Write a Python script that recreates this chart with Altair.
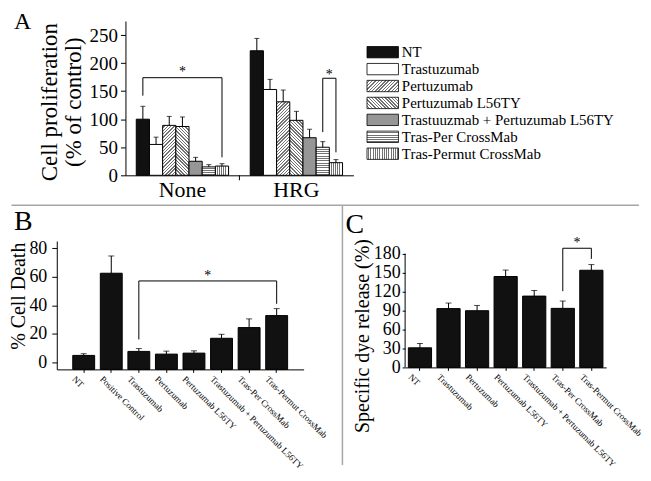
import math
import altair as alt
import pandas as pd

FONT = "Liberation Serif"
BORDER = "#a6a6a6"
BAR_DARK = "#111111"
HATCH_INK = "#727272"

# ---------------- Panel A data ----------------
groups_a = ["None", "HRG"]
series_a = ["NT", "Trastuzumab", "Pertuzumab", "Pertuzumab L56TY",
            "Trastuuzmab + Pertuzumab L56TY", "Tras-Per CrossMab", "Tras-Permut CrossMab"]
fills_a = ["#111111", "#ffffff", "#c8c8c8", "#c0c0c0", "#969696", "#b4b4b4", "#c2c2c2"]
hatch_a = [None, None, "up", "down", None, "horizontal", "vertical"]
none_vals = [100, 55, 89, 87, 25, 15, 16.5]
none_errs = [123, 68, 105, 104, 32, 19, 20.7]
hrg_vals = [222, 153, 131, 98, 67, 50, 22.5]
hrg_errs = [244, 171, 152, 114, 82, 60, 28]
a_ticks = [0, 50, 100, 150, 200, 250]
a_domain = [0, 275]

brk_a_groups = ["None", "HRG"]
brk_a_left = ["NT", "Tras-Per CrossMab"]
brk_a_right = ["Tras-Permut CrossMab", "Tras-Permut CrossMab"]
brk_a_left_foot = [142, 77]
brk_a_top = [174, 173]
brk_a_right_foot = [32, 41]
star_a_series = ["Pertuzumab L56TY", "Tras-Per CrossMab"]
star_a_y = [190, 184]

# ---------------- Panel B data ----------------
cats_b = ["NT", "Positive Control", "Trastuzumab", "Pertuzumab", "Pertuzumab L56TY",
          "Trastuzumab + Pertuzumab L56TY", "Tras-Per CrossMab", "Tras-Permut CrossMab"]
vals_b = [4.8, 62.4, 7.6, 5.7, 6.4, 16.8, 24.3, 32.7]
errs_b = [6, 74.5, 9.6, 7.8, 8, 19.6, 30.4, 37.6]
b_ticks = [0, 20, 40, 60, 80]
b_domain = [-5, 85]
brk_b = ["Trastuzumab", "Tras-Permut CrossMab"]
brk_b_y = [16, 57, 57, 41]
star_b = ["Pertuzumab L56TY", 62.7]

# ---------------- Panel C data ----------------
cats_c = ["NT", "Trastuzumab", "Pertuzumab", "Pertuzumab L56TY",
          "Trastuzumab + Pertuzumab L56TY", "Tras-Per CrossMab", "Tras-Permut CrossMab"]
vals_c = [31, 93, 89.7, 143.8, 112.8, 93.4, 153.7]
errs_c = [37.8, 101.8, 98, 154, 121.7, 105, 162.7]
c_ticks = [0, 30, 60, 90, 120, 150, 180]
c_axis_max = 180
c_domain = [0, 200]
brk_c = ["Tras-Per CrossMab", "Tras-Permut CrossMab"]
brk_c_y = [120.6, 188.5, 188.5, 171.7]
star_c = ["Tras-Per CrossMab", 202]

one = pd.DataFrame({"k": [0]})
OX, OY = 55, 20  # page position of the layout origin (top-left of panel A's view)


def frame_rule(x1, y1, x2, y2, width=1.5, opacity=1.0, color=BORDER):
    return alt.Chart(one).mark_rule(color=color, strokeWidth=width, opacity=opacity).encode(
        x=alt.value(x1 - OX), y=alt.value(y1 - OY), x2=alt.value(x2 - OX), y2=alt.value(y2 - OY))


def letter(t, x, y, size):
    return alt.Chart(one).mark_text(text=t, font=FONT, fontSize=size, align="left",
                                    baseline="alphabetic", color="black").encode(
        x=alt.value(x - OX), y=alt.value(y - OY))


def hatch(kind, w, h, period=2.3, ink=0.45):
    """Striped linear gradient imitating a hatch pattern on a w x h pixel box."""
    if kind == "horizontal":
        x1, y1, x2, y2, length = 0, 0, 0, 1, h
    elif kind == "vertical":
        x1, y1, x2, y2, length = 0, 0, 1, 0, w
    else:
        t = (w + h) / (w * w + h * h)
        length = (w + h) / math.sqrt(2)
        if kind == "up":
            x1, y1, x2, y2 = 0, 0, w * t, h * t
        else:
            x1, y1, x2, y2 = 0, 1, w * t, 1 - h * t
    n = max(1, round(length / period))
    stops = []
    for k in range(n):
        a = k / n
        m = (k + 1 - ink) / n
        b = (k + 1) / n
        stops += [{"offset": a, "color": "#ffffff"}, {"offset": m, "color": "#ffffff"},
                  {"offset": m, "color": HATCH_INK}, {"offset": b, "color": HATCH_INK}]
    return {"gradient": "linear", "x1": x1, "y1": y1, "x2": x2, "y2": y2, "stops": stops}


# ================= Panel A =================
rows = []
for g, vals, errs in [("None", none_vals, none_errs), ("HRG", hrg_vals, hrg_errs)]:
    for s, v, e in zip(series_a, vals, errs):
        rows.append({"group": g, "series": s, "value": v, "err": e})
df_a = pd.DataFrame(rows)

brk_rows = []
for i in range(len(brk_a_groups)):
    pts = [(brk_a_left[i], brk_a_left_foot[i]), (brk_a_left[i], brk_a_top[i]),
           (brk_a_right[i], brk_a_top[i]), (brk_a_right[i], brk_a_right_foot[i])]
    for k, (s, yv) in enumerate(pts):
        brk_rows.append({"group": brk_a_groups[i], "series": s, "y": yv, "order": k, "id": i})
df_brk_a = pd.DataFrame(brk_rows)

A_W, A_H = 298, 155
A_LEFT = 69  # where panel A's axes start inside its view
A_PI, A_PO = 0.19, 0.095
xa_scale = alt.Scale(domain=groups_a, range=[A_LEFT, A_W], paddingInner=A_PI, paddingOuter=A_PO)
xa_axis = alt.Axis(title=None, labelAngle=0, ticks=False, labelFont=FONT, labelFontSize=22,
                   labelPadding=4)
xo_scale = alt.Scale(domain=series_a, paddingInner=0, paddingOuter=0)
ya_scale = alt.Scale(domain=a_domain, nice=False, zero=False)
ya_axis = alt.Axis(values=a_ticks, title=["Cell proliferation", "(% of control)"], offset=-A_LEFT,
                   titleFont=FONT, titleFontWeight="normal",
                   titleFontSize=23, titleX=-69, titleY=81, titleAlign="center",
                   titleBaseline="alphabetic", titleLineHeight=24,
                   labelFont=FONT, labelFontSize=19, tickSize=5, labelPadding=3)

# pixel size of one bar in panel A (for the hatch gradients)
a_step = (A_W - A_LEFT) / (len(groups_a) - A_PI + 2 * A_PO)
a_bar_w = a_step * (1 - A_PI) / len(series_a)
a_px = A_H / (a_domain[1] - a_domain[0])

a_conditions = []
for _, r in df_a.iterrows():
    kind = hatch_a[series_a.index(r["series"])]
    if kind:
        a_conditions.append({
            "test": f"datum.group === '{r['group']}' && datum.series === '{r['series']}'",
            "value": hatch(kind, a_bar_w, r["value"] * a_px)})


def xa():
    return alt.X("group:N", scale=xa_scale, axis=xa_axis)


def xoa():
    return alt.XOffset("series:N", scale=xo_scale)


def ya(field):
    return alt.Y(field, scale=ya_scale, axis=ya_axis)


fill_scale = alt.Scale(domain=series_a, range=fills_a)

bars_a = alt.Chart(df_a).mark_bar(stroke="black", strokeWidth=1).encode(
    x=xa(), xOffset=xoa(), y=ya("value:Q"),
    fill=alt.Fill("series:N", scale=fill_scale, legend=None, condition=a_conditions))
err_a = alt.Chart(df_a).mark_rule(color="black", strokeWidth=1).encode(
    x=xa(), xOffset=xoa(), y=ya("value:Q"), y2="err:Q")
cap_a = alt.Chart(df_a).mark_tick(color="black", size=5, thickness=1, orient="horizontal").encode(
    x=xa(), xOffset=xoa(), y=ya("err:Q"))
brk_a = alt.Chart(df_brk_a).mark_line(color="black", strokeWidth=1).encode(
    x=xa(), xOffset=xoa(), y=ya("y:Q"), order="order:Q", detail="id:N")
df_star_a = pd.DataFrame({"group": brk_a_groups, "series": star_a_series, "y": star_a_y})
star_a1 = alt.Chart(df_star_a.iloc[[0]]).mark_text(
    text="*", font=FONT, fontSize=14, baseline="middle", dy=3, color="black").encode(
    x=xa(), xOffset=xoa(), y=ya("y:Q"))
star_a2 = alt.Chart(df_star_a.iloc[[1]]).mark_text(
    text="*", font=FONT, fontSize=14, baseline="middle", dy=3, dx=a_bar_w / 2, color="black").encode(
    x=xa(), xOffset=xoa(), y=ya("y:Q"))
# small separator tick on the x axis between the two groups
mid_x = A_LEFT + (A_W - A_LEFT) / 2
sep_tick = alt.Chart(one).mark_rule(color="black", strokeWidth=1).encode(
    x=alt.value(mid_x), y=alt.value(A_H), y2=alt.value(A_H + 5))

decor = [
    frame_rule(8.5, 8.5, 8.5, 30, width=1, opacity=0),   # invisible anchors (page origin)
    frame_rule(8.5, 8.5, 30, 8.5, width=1, opacity=0),
    frame_rule(9.5, 205, 640, 205),
    frame_rule(342, 205, 342, 466),
    letter("A", 12, 28, 24),
    letter("B", 12, 230, 28),
    letter("C", 345, 233, 28),
]
panel_a = alt.layer(bars_a, err_a, cap_a, brk_a, star_a1, star_a2, sep_tick, *decor).properties(
    width=A_W, height=A_H)

# legend for A (separate view placed above panel C's column)
LEG_X = 405
SW_X1, SW_X2, TXT_X = 366.7, 398.3, 401.7
LEG_RANGE = [22.8, 141.8]
LEG_PI = 0.33
df_leg = pd.DataFrame({"series": series_a})
leg_step = (LEG_RANGE[1] - LEG_RANGE[0]) / len(series_a)
leg_h = leg_step * (1 - LEG_PI)
leg_conditions = []
for s, kind in zip(series_a, hatch_a):
    if kind:
        leg_conditions.append({"test": f"datum.series === '{s}'",
                               "value": hatch(kind, SW_X2 - SW_X1, leg_h)})
leg_y = alt.Y("series:N", scale=alt.Scale(domain=series_a, range=LEG_RANGE,
                                          paddingInner=LEG_PI, paddingOuter=LEG_PI / 2), axis=None)
leg_rect = alt.Chart(df_leg).mark_bar(stroke="black", strokeWidth=0.8).encode(
    x=alt.value(SW_X1 - LEG_X), x2=alt.value(SW_X2 - LEG_X), y=leg_y,
    fill=alt.Fill("series:N", scale=fill_scale, legend=None, condition=leg_conditions))
leg_text = alt.Chart(df_leg).mark_text(align="left", baseline="middle", font=FONT, fontSize=15,
                                       fontWeight="normal", color="black").encode(
    x=alt.value(TXT_X - LEG_X), y=leg_y, text="series:N")
legend_a = alt.layer(leg_rect, leg_text).properties(width=220, height=150)


# ================= Panels B and C =================
def bar_panel(cats, vals, errs, w, h, ydom, yticks, ybase, pin, pout, title, tx, ty, tsize,
              lsize, tick, lpad, brk, brk_y, star, axis_max=None):
    df = pd.DataFrame({"cat": cats, "value": vals, "err": errs})
    step = w / (len(cats) - pin + 2 * pout)
    xscale = alt.Scale(domain=cats, paddingInner=pin, paddingOuter=pout)
    xaxis = alt.Axis(title=None, labelAngle=45, labelAlign="left", labelBaseline="top",
                     labelFont=FONT, labelFontSize=9, labelPadding=2, labelOffset=-7, tickSize=3,
                     labelOverlap=False, labelLimit=300, labelBound=False)
    yscale = alt.Scale(domain=ydom, nice=False, zero=False)
    yaxis = alt.Axis(values=yticks, title=title, titleX=tx, titleY=ty, titleFontSize=tsize,
                     titleFont=FONT, titleFontWeight="normal",
                     titleAlign="center", titleBaseline="alphabetic",
                     labelFont=FONT, labelFontSize=lsize, tickSize=tick, labelPadding=lpad,
                     domain=axis_max is None)

    def xe():
        return alt.X("cat:N", scale=xscale, axis=xaxis)

    def ye(f):
        return alt.Y(f, scale=yscale, axis=yaxis)

    bars = alt.Chart(df).mark_bar(color=BAR_DARK, stroke="black", strokeWidth=1).encode(
        x=xe(), y=ye("value:Q"), y2=alt.datum(ybase))
    err = alt.Chart(df).mark_rule(color="black", strokeWidth=1).encode(
        x=xe(), y=ye("value:Q"), y2="err:Q")
    cap = alt.Chart(df).mark_tick(color="black", size=6, thickness=1, orient="horizontal").encode(
        x=xe(), y=ye("err:Q"))
    dfb = pd.DataFrame({"cat": [brk[0], brk[0], brk[1], brk[1]], "y": brk_y, "order": [0, 1, 2, 3]})
    br = alt.Chart(dfb).mark_line(color="black", strokeWidth=1).encode(
        x=xe(), y=ye("y:Q"), order="order:Q")
    dfs = pd.DataFrame({"cat": [star[0]], "y": [star[1]]})
    st = alt.Chart(dfs).mark_text(text="*", font=FONT, fontSize=14, baseline="middle", dy=3,
                                  dx=step / 2, color="black").encode(x=xe(), y=ye("y:Q"))
    layers = [bars, err, cap, br, st]
    if axis_max is not None:
        dfa = pd.DataFrame({"y0": [ydom[0]], "y1": [axis_max]})
        layers.append(alt.Chart(dfa).mark_rule(color="black", strokeWidth=1).encode(
            x=alt.value(0), y=ye("y0:Q"), y2="y1:Q"))
    return alt.layer(*layers).properties(width=w, height=h)


panel_b = bar_panel(cats_b, vals_b, errs_b, 248, 129, b_domain, b_ticks, b_domain[0], 0.206, 0.58,
                    "% Cell Death", -32, 55, 20, 18, 5, 5, brk_b, brk_b_y, star_b)
panel_c = bar_panel(cats_c, vals_c, errs_c, 202, 127, c_domain, c_ticks, c_domain[0], 0.188, 0.113,
                    "Specific dye release (%)", -36.5, 95, 20, 18, 3, 2, brk_c, brk_c_y, star_c,
                    axis_max=c_axis_max)

chart = alt.concat(panel_a, legend_a, panel_b, panel_c, columns=2).properties(
    align="each", bounds="flush", spacing={"row": 66, "column": 52}, padding=0
).configure_view(stroke=None).configure_axis(
    labelFont=FONT, titleFont=FONT, labelColor="black", titleColor="black",
    domainColor="black", tickColor="black", titleFontWeight="normal", grid=False,
    domainWidth=1, tickWidth=1
).configure_text(font=FONT)

chart.save("out.html", embed_options={"renderer": "svg", "actions": False})
